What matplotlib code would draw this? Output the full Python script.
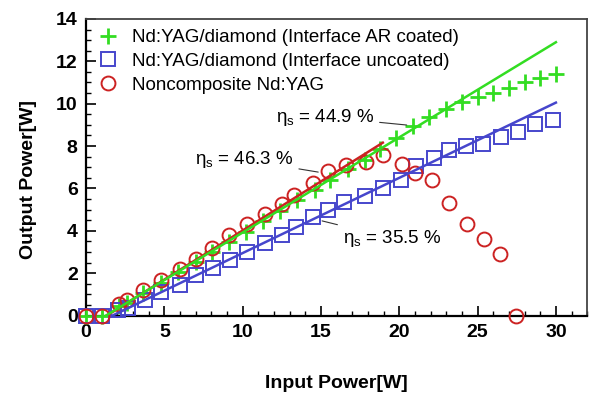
import matplotlib
matplotlib.use("Agg")
import matplotlib.pyplot as plt
from matplotlib.ticker import MultipleLocator

plt.rcParams['font.family'] = ['Liberation Sans', 'DejaVu Sans']
plt.rcParams['mathtext.fontset'] = 'custom'
plt.rcParams['mathtext.rm'] = 'Liberation Sans'
plt.rcParams['mathtext.it'] = 'Liberation Sans'

# Nd:YAG/diamond (Interface AR coated)
ar_x = [0, 1.0, 2.1, 2.6, 3.65, 4.8, 5.9, 7.0, 8.05, 9.1, 10.2, 11.3, 12.4, 13.5, 14.6,
        15.6, 16.7, 17.8, 18.8, 19.8, 20.86, 21.9, 23.0, 24.0, 25.0, 26.0, 27.0, 28.0, 29.0, 30.0]
ar_y = [0, 0, 0.45, 0.6, 1.05, 1.55, 2.05, 2.55, 3.0, 3.45, 3.95, 4.45, 4.95, 5.45, 5.95,
        6.4, 6.9, 7.35, 7.85, 8.4, 8.95, 9.35, 9.75, 10.1, 10.3, 10.5, 10.75, 11.0, 11.22, 11.38]

# Nd:YAG/diamond (Interface uncoated)
un_x = [0, 1.0, 2.06, 2.7, 3.76, 4.82, 6.0, 7.05, 8.1, 9.18, 10.3, 11.4, 12.5, 13.4, 14.5,
        15.45, 16.5, 17.8, 18.95, 20.1, 21.08, 22.2, 23.2, 24.26, 25.35, 26.5, 27.55, 28.65, 29.8]
un_y = [0, 0, 0.27, 0.35, 0.74, 1.13, 1.45, 1.92, 2.24, 2.63, 3.02, 3.41, 3.81, 4.2, 4.64,
        4.99, 5.38, 5.65, 6.0, 6.4, 7.05, 7.42, 7.83, 7.98, 8.1, 8.42, 8.65, 9.04, 9.21]

# Noncomposite Nd:YAG
nc_x = [0, 1.0, 2.1, 2.6, 3.65, 4.8, 6.0, 7.0, 8.05, 9.1, 10.3, 11.4, 12.5, 13.3, 14.5,
        15.45, 16.6, 17.9, 18.95, 20.2, 21.0, 22.1, 23.2, 24.3, 25.4, 26.45, 27.45]
nc_y = [0, 0, 0.55, 0.74, 1.2, 1.66, 2.18, 2.68, 3.17, 3.78, 4.34, 4.8, 5.26, 5.7, 6.25,
        6.8, 7.1, 7.26, 7.58, 7.15, 6.75, 6.4, 5.33, 4.31, 3.6, 2.9, 0]

# Linear fits (slope efficiency lines): endpoints
ar_fit_x = [1.27, 30.0]
ar_fit_y = [0.0, 12.9]
un_fit_x = [1.69, 30.0]
un_fit_y = [0.0, 10.05]
nc_fit_x = [1.33, 18.95]
nc_fit_y = [0.0, 8.16]

labels = ["Nd:YAG/diamond (Interface AR coated)",
          "Nd:YAG/diamond (Interface uncoated)",
          "Noncomposite Nd:YAG"]

green = '#33dd22'
blue = '#4646cc'
red = '#cc2222'

fig = plt.figure(figsize=(5.89, 3.94), dpi=100)
ax = fig.add_axes([0.146, 0.199, 0.851, 0.753])

ax.plot(ar_x, ar_y, linestyle='none', marker='+', ms=11, mew=2, color=green,
        label=labels[0], clip_on=False, zorder=3)
ax.plot(un_x, un_y, linestyle='none', marker='s', ms=10, mew=1.4, mfc='none', mec=blue,
        label=labels[1], clip_on=False, zorder=3)
ax.plot(nc_x, nc_y, linestyle='none', marker='o', ms=10, mew=1.4, mfc='none', mec=red,
        label=labels[2], clip_on=False, zorder=3)

ax.plot(nc_fit_x, nc_fit_y, color=red, lw=1.8, zorder=4)
ax.plot(ar_fit_x, ar_fit_y, color=green, lw=1.8, zorder=4)
ax.plot(un_fit_x, un_fit_y, color=blue, lw=1.8, zorder=4)

ax.set_xlim(0, 32)
ax.set_ylim(0, 14)
ax.xaxis.set_major_locator(MultipleLocator(5))
ax.xaxis.set_minor_locator(MultipleLocator(1))
ax.yaxis.set_major_locator(MultipleLocator(2))
ax.yaxis.set_minor_locator(MultipleLocator(0.5))
ax.tick_params(which='both', direction='in', top=False, right=False)
ax.tick_params(which='major', length=7, width=1.2, labelsize=14, pad=6)
ax.tick_params(which='minor', length=3.5, width=1.0)
for lab in ax.get_xticklabels() + ax.get_yticklabels():
    lab.set_fontweight('bold')

for s in ['left', 'bottom']:
    ax.spines[s].set_linewidth(1.6)
    ax.spines[s].set_color('black')
for s in ['top', 'right']:
    ax.spines[s].set_linewidth(1.3)
    ax.spines[s].set_color('#444444')

ax.set_xlabel('Input Power[W]', fontsize=14, fontweight='bold')
ax.set_ylabel('Output Power[W]', fontsize=14, fontweight='bold')
ax.xaxis.set_label_coords(0.5, -0.2)
ax.yaxis.set_label_coords(-0.098, 0.46)

leg = ax.legend(loc='upper left', frameon=False, fontsize=13.5, handletextpad=0.7,
                borderaxespad=0.15, labelspacing=0.35, handlelength=1.2,
                bbox_to_anchor=(0.0, 1.0))

ann_kw = dict(fontsize=13.5, arrowprops=dict(arrowstyle='-', color='#333333', lw=0.8))
ax.annotate(r'$\eta_s$ = 44.9 %', xy=(20.65, 8.98), xytext=(12.1, 9.37),
            va='center', ha='left', **ann_kw)
ax.annotate(r'$\eta_s$ = 46.3 %', xy=(15.0, 6.75), xytext=(6.95, 7.35),
            va='center', ha='left', **ann_kw)
ax.annotate(r'$\eta_s$ = 35.5 %', xy=(14.9, 4.5), xytext=(16.4, 3.65),
            va='center', ha='left', **ann_kw)

fig.savefig('out.png', dpi=100)
